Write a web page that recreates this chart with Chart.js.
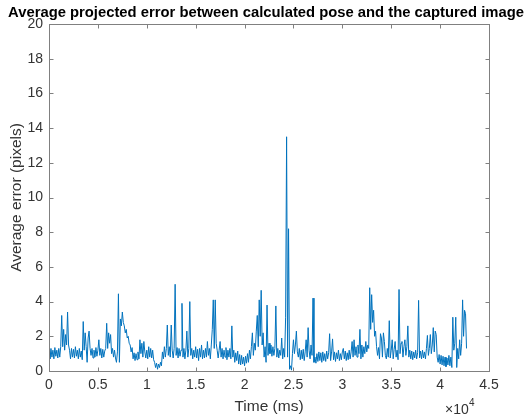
<!DOCTYPE html>
<html>
<head>
<meta charset="utf-8">
<script src="https://cdn.jsdelivr.net/npm/chart.js@4"></script>
<style>
html,body{margin:0;padding:0;background:#fff;}
#wrap{width:529px;height:419px;position:relative;}
</style>
</head>
<body>
<div id="wrap"><canvas id="errChart" width="529" height="419"></canvas></div>
<script>
// sample spacing of the logged error values (ms)
const sampleMs = 100;

// average reprojection error per frame (pixels)
const errors = [
1.0,0.7,1.3,0.8,1.2,0.7,1.35,0.85,1.2,0.75,
1.3,0.8,1.4,3.2,1.4,2.4,1.2,2.1,1.5,3.4,
1.5,1.2,0.7,1.3,0.8,1.25,0.75,1.4,0.85,1.2,
0.7,1.3,0.8,1.15,0.65,2.85,1.2,2.2,1.4,0.5,
1.9,2.3,1.3,0.9,1.3,0.75,1.2,0.8,1.35,0.85,
1.2,1.8,0.9,1.3,0.75,1.25,0.8,1.15,1.3,2.75,
1.3,2.2,1.6,2.1,1.0,1.3,0.8,1.2,0.75,0.5,
1.1,4.45,0.5,3.0,2.6,3.4,2.8,2.6,2.2,2.4,
1.9,2.0,1.6,1.5,1.1,1.35,0.7,1.05,0.6,1.0,
0.65,1.1,0.7,1.8,1.0,1.6,0.8,1.7,1.1,0.75,
1.2,0.7,1.4,0.8,1.3,0.75,1.2,0.65,0.5,0.2,
0.45,0.1,0.4,0.2,0.5,0.3,1.1,0.7,1.4,0.8,
1.3,2.65,0.9,1.4,0.8,2.65,1.2,0.75,1.3,5.0,
0.9,1.35,0.75,1.3,0.85,1.2,3.9,0.8,1.3,0.7,
1.2,2.3,0.8,1.3,4.0,0.9,1.3,0.7,1.2,0.8,
1.4,0.75,1.25,0.6,1.3,0.8,1.5,0.7,1.2,0.75,
1.3,0.8,1.7,0.9,1.3,0.7,1.5,2.4,4.1,1.3,
4.1,1.6,1.2,0.75,1.2,1.7,0.8,1.3,0.7,1.2,
0.8,1.35,0.65,1.2,0.8,1.3,0.7,2.6,0.8,1.2,
0.5,1.05,0.6,1.15,0.4,0.95,0.35,0.9,0.4,0.8,
0.3,0.85,0.45,1.0,0.5,1.2,0.7,1.4,2.2,0.9,
1.6,1.2,2.3,3.2,1.4,4.1,2.0,4.65,1.5,2.2,
0.8,1.4,0.5,3.8,0.9,1.6,1.0,1.5,0.85,1.4,
0.9,1.3,3.75,0.8,1.3,0.75,1.2,0.9,1.9,0.7,
1.3,0.8,3.1,13.5,0.8,8.2,0.1,0.3,0.05,1.0,
1.8,1.0,1.5,2.3,1.1,0.8,1.3,0.65,1.2,0.7,
1.25,0.6,1.1,1.8,0.8,2.5,1.2,0.7,1.5,0.9,
4.2,0.5,0.8,0.45,1.0,0.55,1.1,0.6,1.05,0.5,
1.1,0.6,1.0,0.55,1.15,0.7,1.05,2.15,0.6,1.1,
1.85,0.65,1.1,0.55,1.05,0.7,1.2,0.6,1.0,0.65,
1.1,1.3,0.7,1.15,0.6,1.05,0.65,1.2,0.7,1.1,
1.7,0.8,1.8,0.9,1.4,0.8,1.5,1.0,2.4,0.7,
1.5,0.8,1.4,1.0,1.7,1.1,1.5,1.3,4.8,2.4,
4.4,2.8,3.5,2.0,2.3,1.4,0.9,1.35,0.7,2.15,
1.9,0.8,2.2,1.7,0.9,0.7,1.3,0.8,2.9,0.75,
1.2,1.8,0.7,1.25,1.7,0.8,1.2,0.65,4.7,1.0,
1.6,1.7,0.8,1.4,1.8,0.9,1.4,2.6,0.8,1.2,
0.7,1.15,0.65,1.1,0.75,1.2,0.7,1.05,4.07,0.75,
1.15,0.7,1.2,0.75,1.1,0.7,1.3,2.05,0.9,1.3,
2.1,1.0,1.5,2.5,1.1,2.3,2.1,0.8,0.5,0.95,
0.4,0.9,0.35,0.85,0.3,0.8,0.25,0.75,0.35,0.9,
0.3,0.8,0.2,3.1,1.2,1.6,3.1,0.2,1.3,0.7,
1.8,0.9,1.6,4.1,2.0,3.5,3.3,1.3
];

const xTicks = [0,5000,10000,15000,20000,25000,30000,35000,40000,45000];
const yTicks = [0,2,4,6,8,10,12,14,16,18,20];

const titleText = "Average projected error between calculated pose and the captured image";
const xLabel = "Time (ms)";
const yLabel = "Average error (pixels)";

const points = errors.map((v, i) => ({x: i * sampleMs, y: v}));

const FONT = "'Liberation Sans', Arial, Helvetica, sans-serif";
const TXT = "#333333";
const AXIS = "#808080";

// box, inward ticks, titles and the x exponent note
const matlabAxes = {
  id: "matlabAxes",
  afterDraw(chart){
    const ctx = chart.ctx;
    const a = chart.chartArea;
    const xs = chart.scales.x, ys = chart.scales.y;
    const L = Math.round(a.left) + 0.5, R = Math.round(a.right) + 0.5;
    const T = Math.round(a.top) + 0.5, B = Math.round(a.bottom) + 0.5;
    ctx.save();
    ctx.strokeStyle = AXIS;
    ctx.lineWidth = 1;
    ctx.strokeRect(L, T, R - L, B - T);
    ctx.beginPath();
    xTicks.forEach(t => {
      const px = Math.round(xs.getPixelForValue(t)) + 0.5;
      ctx.moveTo(px, B); ctx.lineTo(px, B - 4);
      ctx.moveTo(px, T); ctx.lineTo(px, T + 4);
    });
    yTicks.forEach(t => {
      const py = Math.round(ys.getPixelForValue(t)) + 0.5;
      ctx.moveTo(L, py); ctx.lineTo(L + 4, py);
      ctx.moveTo(R, py); ctx.lineTo(R - 4, py);
    });
    ctx.stroke();

    ctx.fillStyle = "#000";
    ctx.font = "bold 14.8px " + FONT;
    ctx.textAlign = "center";
    ctx.textBaseline = "alphabetic";
    ctx.fillText(titleText, 266, 17);

    ctx.fillStyle = TXT;
    ctx.font = "15.5px " + FONT;
    ctx.fillText(xLabel, (a.left + a.right) / 2, 411);

    ctx.save();
    ctx.translate(21, (a.top + a.bottom) / 2);
    ctx.rotate(-Math.PI / 2);
    ctx.fillText(yLabel, 0, 0);
    ctx.restore();

    ctx.textAlign = "left";
    ctx.font = "14px " + FONT;
    ctx.fillText("\u00d710", 445, 414);
    ctx.font = "10px " + FONT;
    ctx.fillText("4", 469, 406);
    ctx.restore();
  }
};

new Chart(document.getElementById("errChart"), {
  type: "line",
  data: {
    datasets: [{
      data: points,
      borderColor: "#0072BD",
      borderWidth: 1,
      pointRadius: 0,
      tension: 0,
      fill: false
    }]
  },
  options: {
    responsive: false,
    animation: false,
    layout: {padding: {left: 0, right: 40, top: 24, bottom: 0}},
    plugins: {legend: {display: false}, tooltip: {enabled: false}, title: {display: false}},
    scales: {
      x: {
        type: "linear",
        min: 0, max: 45000,
        grid: {display: false, drawTicks: false},
        border: {display: false},
        afterBuildTicks: s => { s.ticks = xTicks.map(v => ({value: v})); },
        afterFit: s => { s.height = 48; },
        ticks: {
          padding: 6,
          color: TXT,
          font: {family: FONT, size: 14},
          maxRotation: 0,
          callback: v => String(v / 10000)
        }
      },
      y: {
        min: 0, max: 20,
        grid: {display: false, drawTicks: false},
        border: {display: false},
        afterBuildTicks: s => { s.ticks = yTicks.map(v => ({value: v})); },
        afterFit: s => { s.width = 49; },
        ticks: {
          padding: 6,
          color: TXT,
          font: {family: FONT, size: 14}
        }
      }
    }
  },
  plugins: [matlabAxes]
});
</script>
</body>
</html>
